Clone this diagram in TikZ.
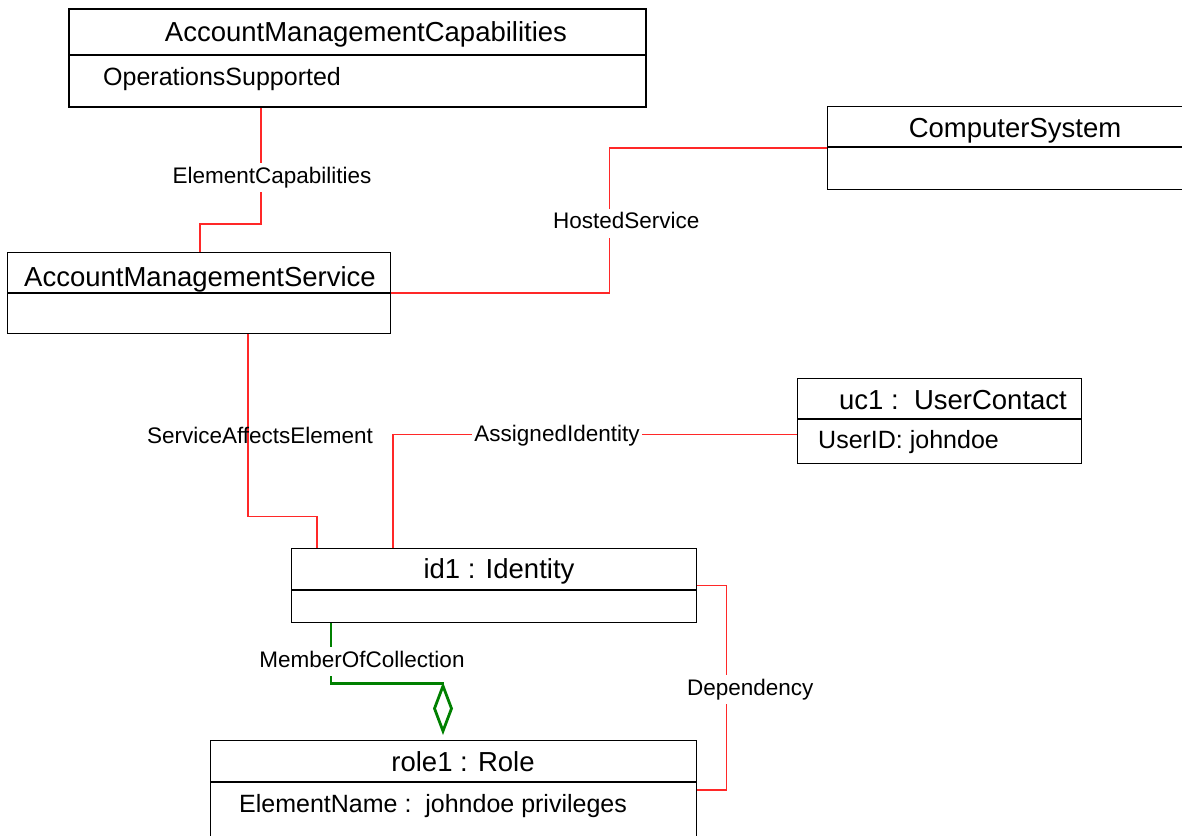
\documentclass[tikz,border=0pt]{standalone}
\usepackage{fontspec}
\setmainfont{Liberation Sans}
\usetikzlibrary{arrows.meta}
\definecolor{assocred}{RGB}{255,40,40}
\definecolor{aggrgreen}{RGB}{0,128,0}
\begin{document}
\begin{tikzpicture}[x=1pt,y=-1pt,
  classbox/.style={draw=black, line width=1.2pt, fill=white, inner sep=0pt, anchor=north west},
  divider/.style={draw=black, line width=1.2pt},
  titletext/.style={font=\fontsize{27.5}{33}\selectfont, inner sep=0pt, anchor=base},
  attrtext/.style={font=\fontsize{25}{30}\selectfont, inner sep=0pt, anchor=base west},
  lbl/.style={font=\fontsize{22.5}{27}\selectfont, inner xsep=2pt, inner ysep=4pt, text height=16pt, text depth=5pt},
  lblfill/.style={lbl, fill=white},
  assoc/.style={draw=assocred, line width=1.3pt},
  aggr/.style={draw=aggrgreen, line width=2.8pt}
]
\useasboundingbox (0,0) rectangle (1182,835);

% ---- class boxes ----
\node[classbox, line width=2pt, minimum width=577pt, minimum height=98pt] (amc) at (68,8) {};
\draw[divider, line width=2pt] ([yshift=-47pt]amc.north west) -- ([yshift=-47pt]amc.north east);
\node[titletext] (amct) at (366,41) {AccountManagementCapabilities};
\node[attrtext] (amca) at (103,85) {OperationsSupported};

\node[classbox, minimum width=400pt, minimum height=83pt] (cs) at (827,106) {};
\draw[divider] ([yshift=-41pt]cs.north west) -- ([yshift=-41pt]cs.north east);
\node[titletext] (cst) at (1015,137) {ComputerSystem};

\node[classbox, minimum width=383pt, minimum height=81pt] (ams) at (7,252) {};
\draw[divider] ([yshift=-41pt]ams.north west) -- ([yshift=-41pt]ams.north east);
\node[titletext] (amst) at (200,286) {AccountManagementService};

\node[classbox, minimum width=284pt, minimum height=85pt] (uc) at (797,378) {};
\draw[divider] ([yshift=-41pt]uc.north west) -- ([yshift=-41pt]uc.north east);
\node[titletext] (uct) at (953,409) {uc1 :\ \ UserContact};
\node[attrtext] (uca) at (818,448) {UserID: johndoe};

\node[classbox, minimum width=405pt, minimum height=74pt] (id) at (291,548) {};
\draw[divider] ([yshift=-42pt]id.north west) -- ([yshift=-42pt]id.north east);
\node[titletext] (idt) at (499,578) {id1 : Identity};

\node[classbox, minimum width=486pt, minimum height=120pt] (role) at (210,740) {};
\draw[divider] ([yshift=-42pt]role.north west) -- ([yshift=-42pt]role.north east);
\node[titletext] (rolet) at (463,771) {role1 : Role};
\node[attrtext] (rolea) at (239,812) {ElementName :\ \ johndoe privileges};

% ---- connectors ----
\draw[assoc] ([xshift=193pt]amc.south west) -- node[lblfill, pos=0.603, xshift=11pt] (lec) {ElementCapabilities} ++(0,116) -| ([xshift=193pt]ams.north west);

\draw[assoc] (ams.east) -- ++(218,0) |- node[lblfill, pos=0.241, xshift=17pt] (lhs) {HostedService} (cs.west);

\draw[assoc] ([xshift=241pt]ams.south west) -- node[lbl, pos=0.571, xshift=12pt] (lsae) {ServiceAffectsElement} ++(0,182) -| ([xshift=26pt]id.north west);

\draw[assoc] ([xshift=102pt]id.north west) |- node[lblfill, pos=0.703, yshift=-1.5pt] (lai) {AssignedIdentity} ([yshift=-13.5pt]uc.west);

\draw[assoc] (id.east) -- ++(29,0) |- node[lblfill, pos=0.255, xshift=24pt] (ldep) {Dependency} ([yshift=-50pt]role.north east);

\draw[aggr, -{Diamond[open, length=53pt, width=20pt]}, shorten >=5pt] ([xshift=40pt]id.south west) -- node[lblfill, pos=0.64, xshift=31pt] (lmoc) {MemberOfCollection} ++(0,60) -| ([xshift=233pt]role.north west);
\end{tikzpicture}
\end{document}
